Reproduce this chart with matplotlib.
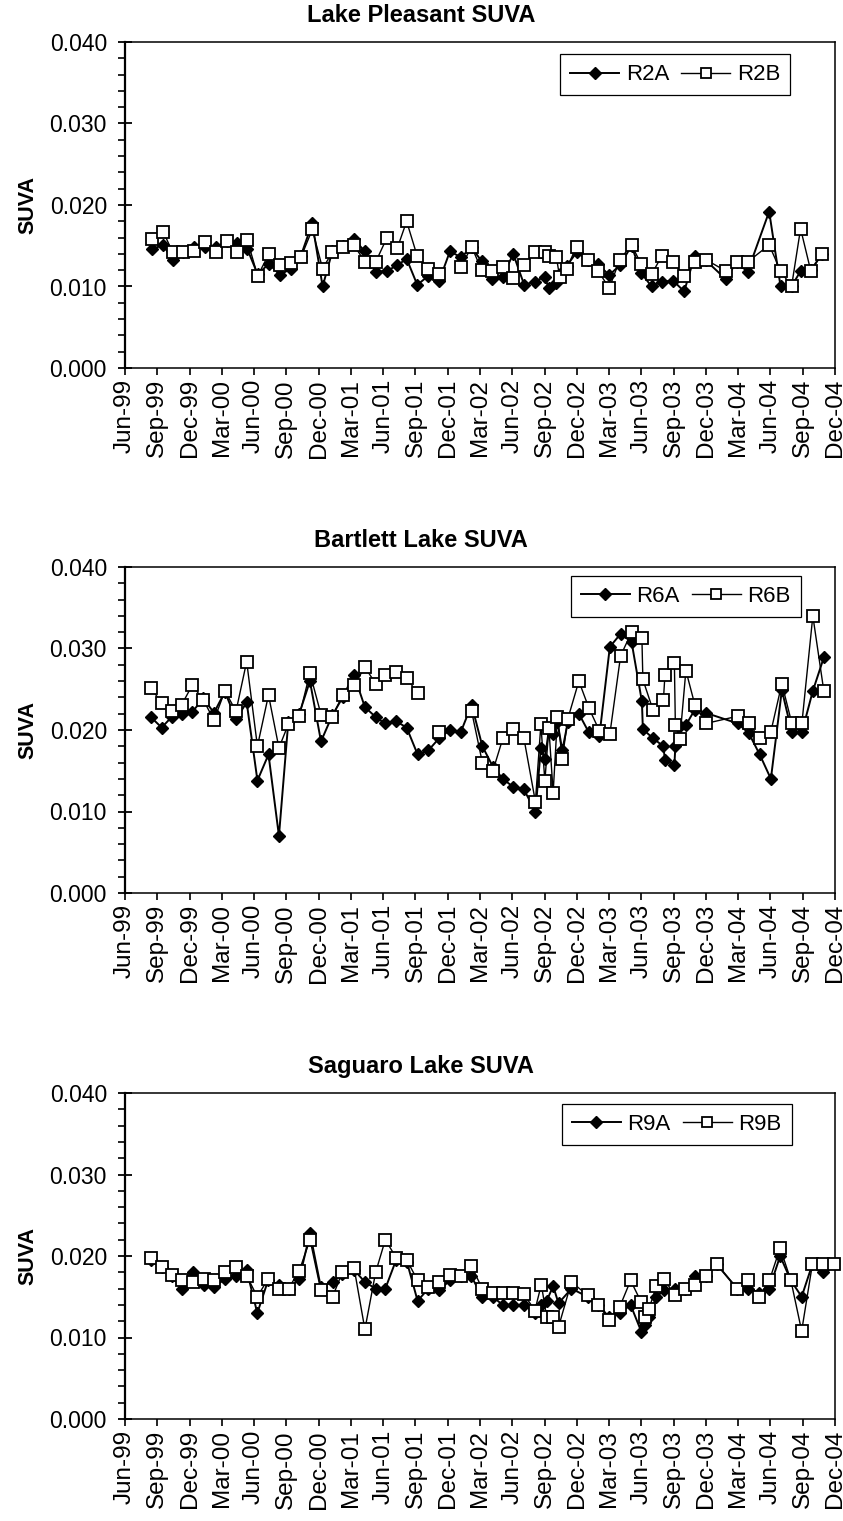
import numpy as np
import matplotlib
matplotlib.use("Agg")
import matplotlib.pyplot as plt
from matplotlib.ticker import MultipleLocator, FormatStrFormatter

plt.rcParams['font.family'] = ['Liberation Sans', 'DejaVu Sans']

# ---------------- data (x = months since 1 Jun 1999) ----------------
tick_labels = ["Jun-99", "Sep-99", "Dec-99", "Mar-00", "Jun-00", "Sep-00", "Dec-00",
               "Mar-01", "Jun-01", "Sep-01", "Dec-01", "Mar-02", "Jun-02", "Sep-02",
               "Dec-02", "Mar-03", "Jun-03", "Sep-03", "Dec-03", "Mar-04", "Jun-04",
               "Sep-04", "Dec-04"]

# Lake Pleasant
lp_months = [2.54, 3.56, 4.43, 5.42, 6.41, 7.43, 8.46, 9.45, 10.44, 11.37, 12.33, 13.38,
             14.41, 15.40, 16.36, 17.41, 18.37, 19.27, 20.23, 21.28, 22.30, 23.30, 24.32,
             25.31, 26.18, 27.17, 28.19, 29.21, 30.20, 31.23, 32.22, 33.15, 34.08, 35.10,
             36.09, 37.11, 38.10, 39.00, 39.40, 40.10, 40.40, 41.05, 41.98, 43.00, 43.99,
             45.01, 46.00, 47.09, 47.96, 48.95, 49.88, 50.96, 51.98, 52.97, 53.99, 55.85,
             56.85, 57.87, 59.88, 60.94, 61.96, 62.80, 63.75, 64.80]
lp_r2a = [0.0146, 0.0151, 0.0132, 0.0142, 0.0149, 0.0148, 0.0148, 0.0156, 0.0153, 0.0146,
          0.0115, 0.0128, 0.0114, 0.0122, 0.0138, 0.0178, 0.0100, 0.0143, 0.0150, 0.0158,
          0.0143, 0.0118, 0.0119, 0.0126, 0.0134, 0.0102, 0.0113, 0.0107, 0.0143, 0.0136,
          0.0148, 0.0131, 0.0109, 0.0112, 0.0140, 0.0102, 0.0106, 0.0112, 0.0098, 0.0104,
          0.0115, 0.0125, 0.0142, 0.0133, 0.0127, 0.0114, 0.0126, 0.0150, 0.0117, 0.0100,
          0.0106, 0.0107, 0.0094, 0.0138, 0.0132, 0.0109, 0.0130, 0.0118, 0.0192, 0.0100,
          0.0100, 0.0119, 0.0120, 0.0140]
lp_r2b = [0.0158, 0.0167, 0.0142, 0.0142, 0.0144, 0.0155, 0.0142, 0.0156, 0.0142, 0.0157,
          0.0113, 0.0140, 0.0126, 0.0129, 0.0136, 0.0170, 0.0122, 0.0142, 0.0149, 0.0151,
          0.0130, 0.0130, 0.0159, 0.0147, 0.0180, 0.0137, 0.0122, 0.0115, np.nan, 0.0124,
          0.0149, 0.0120, 0.0119, 0.0124, 0.0111, 0.0126, 0.0142, 0.0142, 0.0138, 0.0136,
          0.0112, 0.0122, 0.0149, 0.0133, 0.0119, 0.0098, 0.0133, 0.0151, 0.0128, 0.0115,
          0.0137, 0.0130, 0.0113, 0.0130, 0.0133, 0.0119, 0.0130, 0.0130, 0.0151, 0.0119,
          0.0100, 0.0171, 0.0119, 0.0140]

# Bartlett Lake
bl_months = [2.39, 3.41, 4.34, 5.27, 6.25, 7.28, 8.27, 9.29, 10.32, 11.31, 12.31, 13.34,
             14.31, 15.18, 16.20, 17.19, 18.22, 19.27, 20.23, 21.28, 22.30, 23.30, 24.16,
             25.16, 26.18, 27.20, 28.20, 29.21, 30.20, 31.20, 32.22, 33.22, 34.20, 35.13,
             36.10, 37.08, 38.15, 38.66, 39.03, 39.40, 39.80, 40.20, 40.65, 41.17, 42.19,
             43.12, 44.10, 45.07, 46.07, 47.09, 48.05, 48.14, 49.07, 50.05, 50.19, 51.07,
             51.16, 51.58, 52.14, 52.97, 53.99, 56.97, 57.99, 59.00, 60.04, 61.06, 61.99,
             62.92, 63.94, 64.96]
bl_r6a = [0.0216, 0.0203, 0.0216, 0.0220, 0.0222, 0.0239, 0.0221, 0.0247, 0.0213, 0.0234,
          0.0138, 0.0170, 0.0070, 0.0210, 0.0220, 0.0260, 0.0186, 0.0218, 0.0240, 0.0268,
          0.0228, 0.0216, 0.0208, 0.0211, 0.0203, 0.0170, 0.0175, 0.0190, 0.0200, 0.0197,
          0.0231, 0.0180, 0.0155, 0.0140, 0.0130, 0.0127, 0.0100, 0.0178, 0.0165, 0.0200,
          0.0195, 0.0210, 0.0175, 0.0210, 0.0220, 0.0197, 0.0193, 0.0302, 0.0318, 0.0308,
          0.0235, 0.0201, 0.0190, 0.0180, 0.0163, 0.0157, 0.0180, 0.0205, 0.0206, 0.0225,
          0.0221, 0.0208, 0.0196, 0.0170, 0.0140, 0.0249, 0.0197, 0.0197, 0.0248, 0.0289]
bl_r6b = [0.0252, 0.0233, 0.0223, 0.0231, 0.0255, 0.0237, 0.0212, 0.0248, 0.0223, 0.0284,
          0.0180, 0.0243, 0.0178, 0.0207, 0.0217, 0.0270, 0.0219, 0.0216, 0.0243, 0.0255,
          0.0277, 0.0257, 0.0268, 0.0271, 0.0264, 0.0245, np.nan, 0.0197, np.nan, np.nan,
          0.0223, 0.0160, 0.0150, 0.0190, 0.0201, 0.0190, 0.0112, 0.0207, 0.0137, 0.0203,
          0.0123, 0.0216, 0.0165, 0.0214, 0.0260, 0.0227, 0.0199, 0.0195, 0.0291, 0.0320,
          0.0313, 0.0262, 0.0225, 0.0237, 0.0267, 0.0282, 0.0206, 0.0189, 0.0273, 0.0231,
          0.0208, 0.0217, 0.0208, 0.0190, 0.0198, 0.0257, 0.0208, 0.0208, 0.0340, 0.0248]

# Saguaro Lake
sl_months = [2.4, 3.4, 4.4, 5.3, 6.3, 7.3, 8.3, 9.3, 10.3, 11.3, 12.3, 13.3, 14.3, 15.2,
             16.2, 17.2, 18.2, 19.3, 20.2, 21.3, 22.3, 23.3, 24.2, 25.2, 26.2, 27.2, 28.2,
             29.2, 30.2, 31.2, 32.2, 33.2, 34.2, 35.1, 36.1, 37.1, 38.1, 38.7, 39.2, 39.8,
             40.3, 41.5, 43.0, 44.0, 45.0, 46.0, 47.0, 48.0, 48.3, 48.7, 49.4, 50.1, 51.1,
             52.1, 53.0, 54.0, 55.0, 56.9, 57.9, 58.9, 59.9, 60.9, 61.9, 62.9, 63.9, 64.9,
             65.9]
sl_r9a = [0.0195, 0.0187, 0.0175, 0.0160, 0.0180, 0.0165, 0.0162, 0.0172, 0.0176, 0.0183,
          0.0130, 0.0170, 0.0165, 0.0160, 0.0172, 0.0228, 0.0162, 0.0168, 0.0178, 0.0183,
          0.0168, 0.0160, 0.0160, 0.0195, 0.0193, 0.0145, 0.0160, 0.0158, 0.0170, 0.0175,
          0.0175, 0.0150, 0.0150, 0.0140, 0.0140, 0.0140, 0.0130, 0.0140, 0.0145, 0.0163,
          0.0142, 0.0160, 0.0150, 0.0140, 0.0125, 0.0130, 0.0140, 0.0107, 0.0115, 0.0125,
          0.0150, 0.0158, 0.0160, 0.0160, 0.0175, 0.0175, 0.0190, 0.0160, 0.0160, 0.0155,
          0.0160, 0.0200, 0.0170, 0.0150, 0.0190, 0.0180, np.nan]
sl_r9b = [0.0197, 0.0187, 0.0177, 0.0170, 0.0168, 0.0172, 0.0170, 0.0180, 0.0187, 0.0176,
          0.0150, 0.0172, 0.0160, 0.0160, 0.0182, 0.0220, 0.0158, 0.0150, 0.0180, 0.0185,
          0.0110, 0.0180, 0.0220, 0.0198, 0.0195, 0.0170, 0.0162, 0.0168, 0.0177, 0.0175,
          0.0188, 0.0160, 0.0155, 0.0155, 0.0155, 0.0153, 0.0133, 0.0165, 0.0125, 0.0125,
          0.0113, 0.0168, 0.0152, 0.0140, 0.0122, 0.0138, 0.0170, 0.0143, 0.0125, 0.0135,
          0.0163, 0.0172, 0.0152, 0.0160, 0.0165, 0.0175, 0.0190, 0.0160, 0.0170, 0.0150,
          0.0170, 0.0210, 0.0170, 0.0108, 0.0190, 0.0190, 0.0190]

panels = [
    ("Lake Pleasant SUVA", lp_months, lp_r2a, lp_r2b, "R2A", "R2B"),
    ("Bartlett Lake SUVA", bl_months, bl_r6a, bl_r6b, "R6A", "R6B"),
    ("Saguaro Lake SUVA", sl_months, sl_r9a, sl_r9b, "R9A", "R9B"),
]

# ---------------- layout ----------------
W, H = 843, 1521
fig = plt.figure(figsize=(W / 100, H / 100), dpi=100)
left_px, right_px = 125, 835
tops_px = [42, 567, 1093]
height_px = 326
legend_anchor = [(0.937, 0.962), (0.952, 0.972), (0.939, 0.966)]

for i, (title, xm, ya, yb, la, lb) in enumerate(panels):
    top = tops_px[i]
    ax = fig.add_axes([left_px / W, 1 - (top + height_px) / H,
                       (right_px - left_px) / W, height_px / H])
    ax.plot(xm, ya, color='black', lw=1.4, marker='D', ms=6.5,
            mfc='black', mec='black', label=la, zorder=3, clip_on=False)
    ax.plot(xm, yb, color='black', lw=1.0, marker='s', ms=8,
            mfc='white', mec='black', mew=1.3, label=lb, zorder=4, clip_on=False)

    ax.set_xlim(0, 66)
    ax.set_ylim(0, 0.040)
    ax.set_xticks(np.arange(0, 67, 3))
    ax.set_xticklabels(tick_labels, rotation=90, fontsize=17.5)
    ax.yaxis.set_major_locator(MultipleLocator(0.010))
    ax.yaxis.set_minor_locator(MultipleLocator(0.002))
    ax.yaxis.set_major_formatter(FormatStrFormatter('%.3f'))
    ax.tick_params(axis='y', which='major', direction='inout', length=10,
                   width=1.3, labelsize=16.5, pad=8)
    ax.tick_params(axis='y', which='minor', direction='out', length=5, width=1.2)
    ax.tick_params(axis='x', which='major', direction='out', length=5, width=1.2,
                   pad=3)
    for s in ['top', 'right', 'bottom']:
        ax.spines[s].set_linewidth(1.1)
    ax.spines['left'].set_linewidth(1.6)

    fig.text(421 / W, 1 - (top - 20) / H, title, fontsize=17, fontweight='bold',
             ha='center', va='baseline')
    ax.set_ylabel("SUVA", fontsize=15.5, fontweight='bold')
    ax.yaxis.set_label_coords(-0.122, 0.5)

    leg = ax.legend(loc='upper right', bbox_to_anchor=legend_anchor[i], ncol=2,
                    frameon=True, fancybox=False, edgecolor='black', framealpha=1,
                    fontsize=16, handlelength=2.2, columnspacing=0.55,
                    handletextpad=0.3, borderpad=0.45, borderaxespad=0,
                    markerscale=0.9)
    leg.get_frame().set_linewidth(0.9)

fig.savefig("out.png", dpi=100, facecolor='white')
